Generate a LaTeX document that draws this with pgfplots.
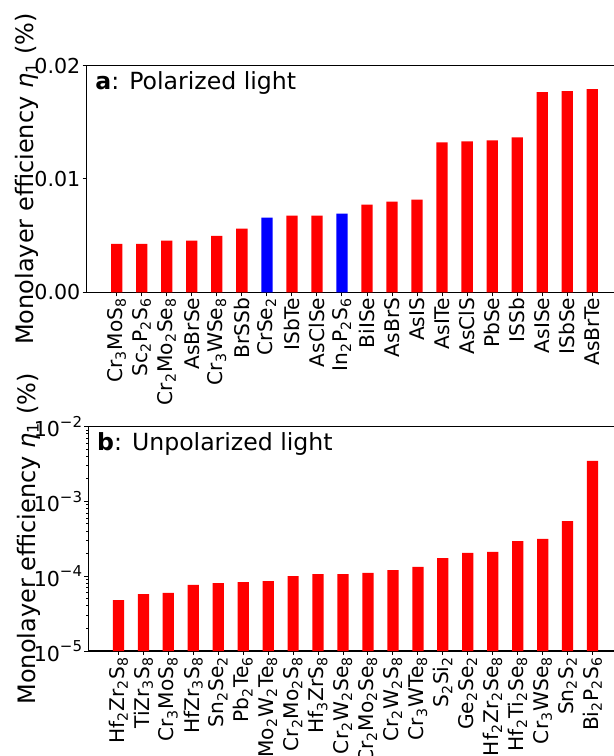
\documentclass[border=0pt]{standalone}
\usepackage{fontspec}
\setmainfont{DejaVu Sans}
\usepackage{pgfplots}
\pgfplotsset{compat=1.18}
\newcommand{\s}[1]{\textsubscript{#1}}
\newcommand{\tp}[1]{10\raisebox{0.85ex}{\fontsize{7.5pt}{8pt}\selectfont −#1}}
\pgfplotsset{
  common/.style={
    scale only axis,
    xmin=-1.2, xmax=20.2,
    xtick={0,...,19},
    tick align=outside,
    xtick pos=lower, ytick pos=left,
    major tick length=2pt,
    minor tick length=1.2pt,
    axis line style={line width=0.6pt},
    every tick/.style={black, line width=0.5pt},
    tick label style={font=\fontsize{10.3pt}{12pt}\selectfont},
    xticklabel style={rotate=90, anchor=east, inner sep=0.5pt, font=\fontsize{10.1pt}{12pt}\selectfont},
    yticklabel style={inner sep=1pt},
    ylabel style={anchor=base, font=\fontsize{12pt}{14pt}\selectfont},
    ylabel={Monolayer efficiency {\itshape η}\s{1} (\%)},
  }
}
\begin{document}
\begin{tikzpicture}
\begin{axis}[common,
  at={(43.35pt,231.85pt)}, anchor=south west,
  width=267.8pt, height=113.3pt,
  ylabel style={at={(axis description cs:-0.099,0.5)}},
  ymin=0, ymax=0.02,
  ytick={0,0.01,0.02}, yticklabels={0.00,0.01,0.02},
  scaled y ticks=false,
  xticklabels={Cr\s{3}MoS\s{8},Sc\s{2}P\s{2}S\s{6},Cr\s{2}Mo\s{2}Se\s{8},AsBrSe,Cr\s{3}WSe\s{8},BrSSb,CrSe\s{2},ISbTe,AsClSe,In\s{2}P\s{2}S\s{6},BiISe,AsBrS,AsIS,AsITe,AsClS,PbSe,ISSb,AsISe,ISbSe,AsBrTe},
]
\addplot[ybar, bar width=0.45, bar shift=0pt, fill=red, draw=none] coordinates {
(0,0.00428) (1,0.00428) (2,0.00455) (3,0.00455) (4,0.00499) (5,0.00561)
(7,0.00677) (8,0.00677) (10,0.00774) (11,0.00801) (12,0.00818)
(13,0.01323) (14,0.01332) (15,0.01341) (16,0.01368)
(17,0.01767) (18,0.01775) (19,0.01793)};
\addplot[ybar, bar width=0.45, bar shift=0pt, fill=blue, draw=none] coordinates {
(6,0.00659) (9,0.00694)};
\node[anchor=base west, xshift=4.15pt, yshift=-11.8pt, inner sep=0pt, font=\fontsize{11.8pt}{13pt}\selectfont] at (rel axis cs:0,1) {\textbf{a}: Polarized light};
\end{axis}
\begin{axis}[common,
  at={(44.25pt,52.5pt)}, anchor=south west,
  width=267pt, height=112.15pt,
  ylabel style={at={(axis description cs:-0.100,0.5)}},
  ymode=log, log origin=infty,
  ymin=1e-5, ymax=1e-2,
  ytick={1e-5,1e-4,1e-3,1e-2},
  yticklabels={\tp{5},\tp{4},\tp{3},\tp{2}},
  xticklabels={Hf\s{2}Zr\s{2}S\s{8},TiZr\s{3}S\s{8},Cr\s{3}MoS\s{8},HfZr\s{3}S\s{8},Sn\s{2}Se\s{2},Pb\s{2}Te\s{6},Mo\s{2}W\s{2}Te\s{8},Cr\s{2}Mo\s{2}S\s{8},Hf\s{3}ZrS\s{8},Cr\s{2}W\s{2}Se\s{8},Cr\s{2}Mo\s{2}Se\s{8},Cr\s{2}W\s{2}S\s{8},Cr\s{3}WTe\s{8},S\s{2}Si\s{2},Ge\s{2}Se\s{2},Hf\s{2}Zr\s{2}Se\s{8},Hf\s{2}Ti\s{2}Se\s{8},Cr\s{3}WSe\s{8},Sn\s{2}S\s{2},Bi\s{2}P\s{2}S\s{6}},
]
\addplot[ybar, bar width=0.45, bar shift=0pt, fill=red, draw=none] coordinates {
(0,4.81e-5) (1,5.78e-5) (2,5.97e-5) (3,7.64e-5) (4,8.12e-5) (5,8.37e-5)
(6,8.63e-5) (7,1.007e-4) (8,1.07e-4) (9,1.07e-4) (10,1.105e-4) (11,1.21e-4)
(12,1.33e-4) (13,1.75e-4) (14,2.05e-4) (15,2.11e-4) (16,2.96e-4) (17,3.15e-4)
(18,5.48e-4) (19,3.48e-3)};
\node[anchor=base west, xshift=4.15pt, yshift=-11.8pt, inner sep=0pt, font=\fontsize{11.8pt}{13pt}\selectfont] at (rel axis cs:0,1) {\textbf{b}: Unpolarized light};
\end{axis}
\pgfresetboundingbox
\useasboundingbox (0,0) rectangle (307pt,378pt);
\end{tikzpicture}
\end{document}
